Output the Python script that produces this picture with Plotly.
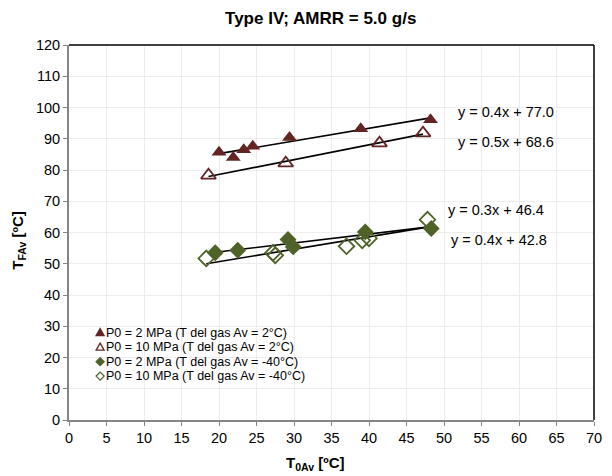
import numpy as np
import plotly.graph_objects as go

# ---- data ----
x_p2_t2 = [20.0, 21.9, 23.3, 24.5, 29.4, 38.9, 48.2]
y_p2_t2 = [85.7, 84.0, 86.5, 87.6, 90.4, 93.2, 96.1]

x_p10_t2 = [18.6, 28.9, 41.4, 47.2]
y_p10_t2 = [78.3, 82.2, 88.6, 91.8]

x_p2_tm40 = [19.5, 22.5, 29.2, 29.9, 39.5, 48.3]
y_p2_tm40 = [53.5, 54.3, 57.8, 55.4, 60.2, 61.3]

x_p10_tm40 = [18.3, 27.2, 27.5, 37.0, 39.1, 40.0, 47.8]
y_p10_tm40 = [51.7, 53.5, 52.7, 55.6, 57.5, 58.1, 64.1]

series_names = [
    "P0 = 2 MPa (T del gas Av = 2°C)",
    "P0 = 10 MPa (T del gas Av = 2°C)",
    "P0 = 2 MPa (T del gas Av = -40°C)",
    "P0 = 10 MPa (T del gas Av = -40°C)",
]
trend_labels = ["y = 0.4x + 77.0", "y = 0.5x + 68.6", "y = 0.3x + 46.4", "y = 0.4x + 42.8"]

x_ticks = list(range(0, 71, 5))
y_ticks = list(range(0, 121, 10))

RED = "#632523"
GREEN = "#4F6228"
FONT = "Liberation Sans, Arial, sans-serif"

series = [
    (x_p2_t2, y_p2_t2, RED, "triangle-up", 13),
    (x_p10_t2, y_p10_t2, RED, "triangle-up-open", 13),
    (x_p2_tm40, y_p2_tm40, GREEN, "diamond", 13),
    (x_p10_tm40, y_p10_tm40, GREEN, "diamond-open", 12),
]

fig = go.Figure()

# trend lines (least squares on each series, spanning its x range)
for xs, ys, col, sym, sz in series:
    xa = np.array(xs)
    ya = np.array(ys)
    m, b = np.polyfit(xa, ya, 1)
    xl = np.array([xa.min(), xa.max()])
    fig.add_trace(go.Scatter(x=xl, y=m * xl + b, mode="lines",
                             line=dict(color="black", width=1.6),
                             showlegend=False, hoverinfo="skip"))

for (xs, ys, col, sym, sz), name in zip(series, series_names):
    fig.add_trace(go.Scatter(
        x=xs, y=ys, mode="markers", name=name,
        marker=dict(symbol=sym, size=sz, color=col,
                    line=dict(color=col, width=1.8 if "open" in sym else 0)),
        showlegend=False))

# trend equation labels
trend_pos = [(51.6, 98.7), (51.6, 89.1), (50.2, 67.3), (50.7, 57.7)]
for lab, (tx, ty) in zip(trend_labels, trend_pos):
    fig.add_annotation(x=tx, y=ty, xref="x", yref="y", text=lab, showarrow=False,
                       xanchor="left", yanchor="middle",
                       font=dict(family=FONT, size=14.5, color="black"))

# manual legend: small marker glyph shapes + text
TRI = "M-4,-3 L4,-3 L0,4 Z"
DIA = "M0,4 L4,0 L0,-4 L-4,0 Z"
leg_paths = [TRI, TRI, DIA, DIA]
leg_filled = [True, False, True, False]
leg_colors = [RED, RED, GREEN, GREEN]
leg_y = [27.95, 23.32, 18.68, 14.05]
for p, filled, c, ly, name in zip(leg_paths, leg_filled, leg_colors, leg_y, series_names):
    fig.add_shape(type="path", xref="x", yref="y", xsizemode="pixel", ysizemode="pixel",
                  xanchor=4.15, yanchor=ly, path=p,
                  fillcolor=c if filled else "white",
                  line=dict(color=c, width=1.3))
    fig.add_annotation(x=4.7, y=ly, xref="x", yref="y", text=name, showarrow=False,
                       xanchor="left", yanchor="middle",
                       font=dict(family=FONT, size=12.5, color="black"))

# axis titles
fig.add_annotation(x=0.469, y=-0.117, xref="paper", yref="paper",
                   text="<b>T<sub>0Av</sub> [ºC]</b>", showarrow=False,
                   xanchor="center", yanchor="middle",
                   font=dict(family=FONT, size=15, color="black"))
fig.add_annotation(x=-0.0976, y=0.48, xref="paper", yref="paper",
                   text="<b>T<sub>FAv</sub> [ºC]</b>", showarrow=False, textangle=-90,
                   xanchor="center", yanchor="middle",
                   font=dict(family=FONT, size=15, color="black"))

# frame: top/right black
fig.add_shape(type="line", xref="paper", yref="paper", x0=0, x1=1, y0=1, y1=1,
              line=dict(color="black", width=1.5))
fig.add_shape(type="line", xref="paper", yref="paper", x0=1, x1=1, y0=0, y1=1,
              line=dict(color="black", width=1.5))

fig.update_layout(
    width=612, height=476,
    margin=dict(l=69, r=10, t=45, b=56),
    paper_bgcolor="white", plot_bgcolor="white",
    title=dict(text="<b>Type IV; AMRR = 5.0 g/s</b>", x=0.524, xanchor="center",
               y=0.962, yanchor="middle",
               font=dict(family=FONT, size=17, color="black")),
    xaxis=dict(range=[0, 70], tickvals=x_ticks, ticktext=[str(v) for v in x_ticks],
               showgrid=True, gridcolor="#EDEDED", gridwidth=1,
               showline=True, linecolor="#868686", linewidth=2,
               ticks="outside", ticklen=4, tickcolor="#868686", tickwidth=1,
               tickfont=dict(family=FONT, size=14.5, color="black"),
               zeroline=False),
    yaxis=dict(range=[0, 120], tickvals=y_ticks, ticktext=[str(v) for v in y_ticks],
               showgrid=True, gridcolor="#EDEDED", gridwidth=1,
               showline=True, linecolor="#868686", linewidth=2,
               ticks="outside", ticklen=4, tickcolor="#868686", tickwidth=1,
               tickfont=dict(family=FONT, size=14.5, color="black"),
               zeroline=False),
)

fig.write_html("out.html", config={"displayModeBar": False},
               post_script="document.body.style.margin='0';document.body.style.padding='0';")
